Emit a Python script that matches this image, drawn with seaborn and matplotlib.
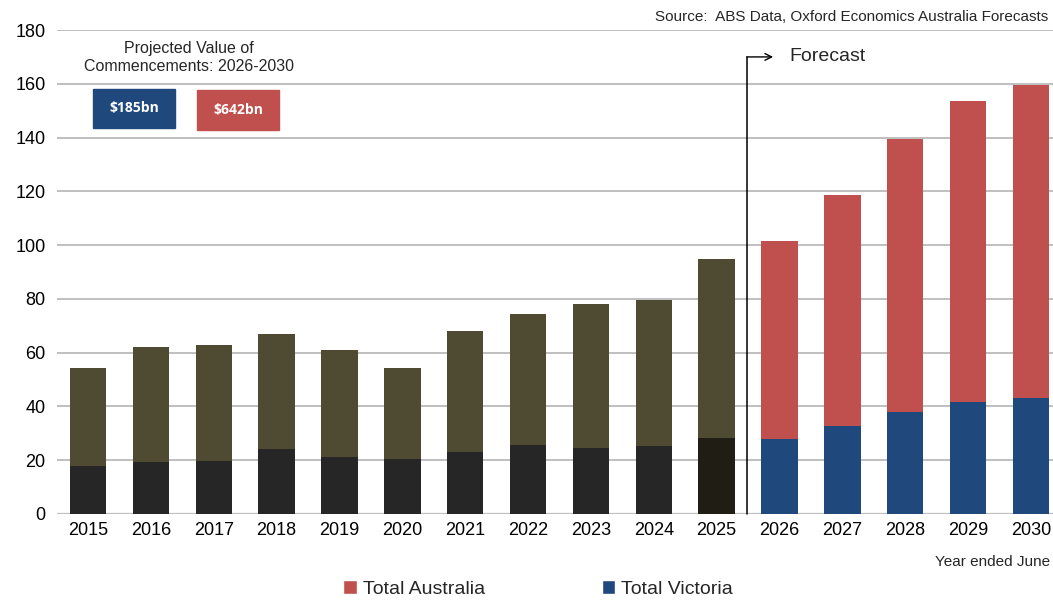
import matplotlib
matplotlib.use("Agg")
import matplotlib.pyplot as plt
from matplotlib.patches import Patch
import seaborn as sns
import pandas as pd

years = ["2015", "2016", "2017", "2018", "2019", "2020", "2021", "2022",
         "2023", "2024", "2025", "2026", "2027", "2028", "2029", "2030"]
total_australia = [54.4, 62.2, 63.0, 67.1, 61.1, 54.4, 68.2, 74.5,
                   77.9, 79.4, 94.7, 101.4, 118.5, 139.4, 153.6, 159.5]
total_victoria = [17.9, 19.4, 19.8, 24.2, 21.2, 20.5, 23.1, 25.7,
                  24.6, 25.3, 28.3, 28.0, 32.8, 38.0, 41.7, 43.2]
forecast_start = "2026"
yticks = [0, 20, 40, 60, 80, 100, 120, 140, 160, 180]

RED = "#C0504D"
BLUE = "#1F497D"
OLIVE = "#4F4A32"
DARK = "#262626"
DARK25 = "#201E14"

sns.set_theme(style="white")
plt.rcParams["font.family"] = ["Liberation Sans", "DejaVu Sans"]

df = pd.DataFrame({"year": years, "aus": total_australia, "vic": total_victoria})
fi = years.index(forecast_start)
aus_cols = {y: (OLIVE if i < fi else RED) for i, y in enumerate(years)}
vic_cols = {y: (DARK if i < fi - 1 else (DARK25 if i == fi - 1 else BLUE)) for i, y in enumerate(years)}

fig = plt.figure(figsize=(10.53, 6.01), dpi=100)
ax = fig.add_axes([0.0538, 0.145, 0.955, 0.805])

sns.barplot(data=df, x="year", y="aus", hue="year", palette=aus_cols,
            width=0.58, legend=False, ax=ax, saturation=1, zorder=2, linewidth=0)
sns.barplot(data=df, x="year", y="vic", hue="year", palette=vic_cols,
            width=0.58, legend=False, ax=ax, saturation=1, zorder=3, linewidth=0)

ax.set_xlim(-0.5, len(years) - 0.5)
ax.set_ylim(0, 180)
ax.set_yticks(yticks)
ax.yaxis.grid(True, color="#BFBFBF", linewidth=1.4, zorder=0)
ax.set_axisbelow(True)
for s in ["top", "right", "left", "bottom"]:
    ax.spines[s].set_visible(False)
ax.axhline(0, color="#BFBFBF", linewidth=1.6, zorder=1)
ax.tick_params(axis="both", labelsize=13, length=0, colors="#000000")
ax.tick_params(axis="x", pad=6)
ax.tick_params(axis="y", pad=8)
ax.set_xlabel("")
ax.set_ylabel("")

# Forecast divider and arrow
xd = fi - 0.52
ya = 170.0
ax.plot([xd, xd], [0, ya], color="black", linewidth=1.1, zorder=4, clip_on=False)
ax.annotate("", xy=(xd + 0.42, ya), xytext=(xd, ya),
            arrowprops=dict(arrowstyle="->", color="black", linewidth=1.0,
                            shrinkA=0, shrinkB=0), zorder=4)
ax.text(xd + 0.68, ya, "Forecast", fontsize=14, va="center", ha="left")

# Annotation box
ax.text(1.6, 176.0, "Projected Value of\nCommencements: 2026-2030", fontsize=11.5,
        ha="center", va="top", linespacing=1.3)
fig.patches.append(plt.Rectangle((93 / 1053, 1 - 128 / 601), 82 / 1053, 39 / 601,
                                 transform=fig.transFigure, color=BLUE, zorder=5))
fig.patches.append(plt.Rectangle((197 / 1053, 1 - 130 / 601), 82 / 1053, 40 / 601,
                                 transform=fig.transFigure, color=RED, zorder=5))
fig.text(134 / 1053, 1 - 108 / 601, "$185bn", color="white", fontsize=10,
         fontweight="bold", ha="center", va="center", family=["Open Sans", "DejaVu Sans"], zorder=6)
fig.text(238 / 1053, 1 - 110 / 601, "$642bn", color="white", fontsize=10,
         fontweight="bold", ha="center", va="center", family=["Open Sans", "DejaVu Sans"], zorder=6)

fig.text(1048 / 1053, 1 - 17 / 601, "Source:  ABS Data, Oxford Economics Australia Forecasts",
         fontsize=11, ha="right", va="center")
fig.text(1050 / 1053, 1 - 562 / 601, "Year ended June", fontsize=11, ha="right", va="center")

handles = [Patch(facecolor=RED, label="Total Australia"),
           Patch(facecolor=BLUE, label="Total Victoria")]
fig.legend(handles=handles, loc="center", bbox_to_anchor=(538 / 1053, 1 - 589 / 601),
           ncol=2, frameon=False, fontsize=14, handlelength=0.7, handleheight=0.7,
           handletextpad=0.3, columnspacing=6.0)

fig.savefig("out.png", dpi=100)
